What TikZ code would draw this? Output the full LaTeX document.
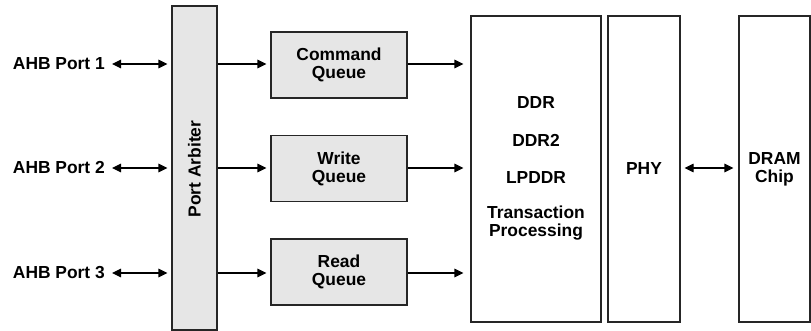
\documentclass[tikz,border=0pt]{standalone}
\usepackage{fontspec}
\setmainfont{Liberation Sans}
\usetikzlibrary{arrows.meta}
\definecolor{boxgray}{HTML}{E6E6E6}
\begin{document}
\begin{tikzpicture}[x=1pt,y=-1pt,
  txt/.style={font=\bfseries\fontsize{17.4}{18}\selectfont, align=center, inner sep=0pt},
  blk/.style={draw=black!85, line width=1.1pt, inner sep=0pt},
  qbox/.style={blk, fill=boxgray, minimum width=136pt, minimum height=66pt, txt},
  tall/.style={blk, minimum height=306pt, txt},
  con/.style={line width=1.1pt, -{Triangle[length=9pt,width=8.5pt]}},
  bicon/.style={line width=1.1pt, {Triangle[length=9pt,width=8.5pt]}-{Triangle[length=9pt,width=8.5pt]}}
]
\useasboundingbox (0,0) rectangle (811,331);
% port arbiter
\node[blk, fill=boxgray, minimum width=45pt, minimum height=324pt] (arb) at (194.5,168) {};
\node[txt, rotate=90] (arbt) at (194.5,169) {Port Arbiter};
% ports
\node[txt, anchor=east] (p1) at (105,64) {AHB Port 1};
\node[txt, anchor=east] (p2) at (105,168) {AHB Port 2};
\node[txt, anchor=east] (p3) at (105,273) {AHB Port 3};
% queues
\node[qbox] (q1) at (339,65) {Command\\Queue};
\node[qbox] (q2) at (339,168.5) {Write\\Queue};
\node[qbox] (q3) at (339,272) {Read\\Queue};
% DDR block
\node[tall, minimum width=130pt] (ddr) at (536,169) {};
\node[txt] (d1) at (536,103) {DDR};
\node[txt] (d2) at (536,140.5) {DDR2};
\node[txt] (d3) at (536,178) {LPDDR};
\node[txt] (d4) at (536,223) {Transaction\\Processing};
% PHY
\node[tall, minimum width=72pt] (phy) at (644,169) {PHY};
% DRAM
\node[tall, minimum width=71pt] (dram) at (774.5,169) {DRAM\\Chip};
% connectors
\foreach \p in {p1,p2,p3}
  \draw[bicon, shorten <=7pt, shorten >=4pt] (\p.east) -- (\p.east -| arb.west);
\draw[con, shorten >=4pt] (p1 -| arb.east) -- (p1 -| q1.west);
\draw[con, shorten >=4pt] (p2 -| arb.east) -- (p2 -| q2.west);
\draw[con, shorten >=4pt] (p3 -| arb.east) -- (p3 -| q3.west);
\draw[con, shorten >=7pt] (p1 -| q1.east) -- (p1 -| ddr.west);
\draw[con, shorten >=7pt] (p2 -| q2.east) -- (p2 -| ddr.west);
\draw[con, shorten >=7pt] (p3 -| q3.east) -- (p3 -| ddr.west);
\draw[bicon, shorten <=4pt, shorten >=5pt] ([yshift=1pt]phy.east) -- ([yshift=1pt]phy.east -| dram.west);
\end{tikzpicture}
\end{document}
